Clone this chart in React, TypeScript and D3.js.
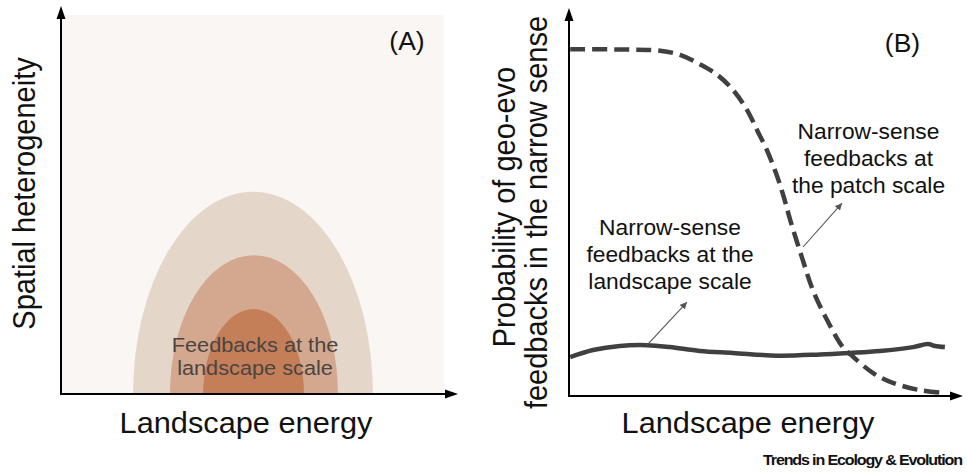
import * as d3 from "d3";
import * as React from "react";

// panel A: nested feedback zones (half-ellipses sitting on the energy axis)
const zoneNames = ["outer", "middle", "inner"];
const zoneCenter = [0.4836, 0.486, 0.485];
const zoneHalfWidth = [0.302, 0.2116, 0.127];
const zoneHeight = [0.521, 0.358, 0.219];

// panel B: probability curves over landscape energy
const patchEnergy = [0.003, 0.129, 0.231, 0.282, 0.332, 0.376, 0.416, 0.452, 0.477, 0.503, 0.528, 0.546, 0.561, 0.591, 0.619, 0.655, 0.695, 0.721, 0.772, 0.822, 0.891, 0.949];
const patchProb = [0.894, 0.893, 0.89, 0.879, 0.855, 0.828, 0.789, 0.737, 0.686, 0.632, 0.567, 0.51, 0.455, 0.358, 0.273, 0.196, 0.126, 0.101, 0.059, 0.034, 0.015, 0.008];
const landscapeEnergy = [0.003, 0.061, 0.129, 0.198, 0.256, 0.332, 0.416, 0.528, 0.637, 0.713, 0.789, 0.873, 0.911, 0.929, 0.954];
const landscapeProb = [0.1005, 0.1186, 0.129, 0.131, 0.126, 0.116, 0.111, 0.104, 0.107, 0.111, 0.116, 0.126, 0.134, 0.129, 0.126];

// annotation arrows [fromEnergy, fromProb, toEnergy, toProb]
const pointers = [
    [0.198, 0.131, 0.2995, 0.242],
    [0.594, 0.384, 0.693, 0.497],
];

const zoneLabel = ["Feedbacks at the", "landscape scale"];
const landscapeLabel = ["Narrow-sense", "feedbacks at the", "landscape scale"];
const patchLabel = ["Narrow-sense", "feedbacks at", "the patch scale"];

const zoneColors = ["#e5d6ca", "#d3a88e", "#c47f58"];
const FONT = "'Liberation Sans', Arial, Helvetica, sans-serif";
const SX = 1.06; // the figure's text is slightly stretched horizontally

export default function App() {
    const ref = React.useRef<SVGSVGElement>(null);

    React.useEffect(() => {
        const svg = d3.select(ref.current!);
        svg.selectAll("*").remove();

        const xA = d3.scaleLinear().domain([0, 1]).range([61, 458]);
        const yA = d3.scaleLinear().domain([0, 1]).range([394, 6]);
        const xB = d3.scaleLinear().domain([0, 1]).range([569, 963]);
        const yB = d3.scaleLinear().domain([0, 1]).range([396, 8]);

        const defs = svg.append("defs");
        defs.append("filter").attr("id", "soft")
            .append("feGaussianBlur").attr("stdDeviation", 0.7);
        defs.append("marker")
            .attr("id", "ptr")
            .attr("viewBox", "0 0 10 10")
            .attr("refX", 10).attr("refY", 5)
            .attr("markerWidth", 7).attr("markerHeight", 7)
            .attr("markerUnits", "userSpaceOnUse")
            .attr("orient", "auto")
            .append("path").attr("d", "M0,0 L10,5 L0,10 Z").attr("fill", "#555");

        const text = (g: any, str: string, x: number, y: number, size: number, opts: any = {}) =>
            g.append("text")
                .attr("transform", `translate(${x},${y}) scale(${SX},1)${opts.rotate ? " rotate(-90)" : ""}`)
                .attr("text-anchor", opts.anchor || "middle")
                .attr("font-family", FONT)
                .attr("font-size", size)
                .attr("font-weight", opts.bold ? "bold" : "normal")
                .attr("letter-spacing", opts.spacing || 0)
                .attr("fill", opts.fill || "#111")
                .text(str);

        const axes = (x: d3.ScaleLinear<number, number>, y: d3.ScaleLinear<number, number>) => {
            const x0 = x.range()[0], x1 = x.range()[1], y0 = y.range()[0], y1 = y.range()[1];
            const g = svg.append("g");
            g.append("line").attr("x1", x0).attr("x2", x0).attr("y1", y0 + 1).attr("y2", y1 + 10)
                .attr("stroke", "#000").attr("stroke-width", 2);
            g.append("line").attr("x1", x0 - 1).attr("x2", x1 - 10).attr("y1", y0).attr("y2", y0)
                .attr("stroke", "#000").attr("stroke-width", 2);
            g.append("path").attr("d", `M${x0},${y1} L${x0 - 4.5},${y1 + 13} L${x0 + 4.5},${y1 + 13} Z`).attr("fill", "#000");
            g.append("path").attr("d", `M${x1},${y0} L${x1 - 13},${y0 - 4.5} L${x1 - 13},${y0 + 4.5} Z`).attr("fill", "#000");
        };

        // ---- panel A
        const gA = svg.append("g");
        gA.append("rect").attr("x", 62).attr("y", 15).attr("width", 382).attr("height", yA(0) - 15)
            .attr("fill", "#f9f6f3");
        gA.append("g").attr("filter", "url(#soft)")
            .selectAll("path")
            .data(zoneNames)
            .join("path")
            .attr("d", (_, i) => {
                const l = xA(zoneCenter[i] - zoneHalfWidth[i]);
                const r = xA(zoneCenter[i] + zoneHalfWidth[i]);
                const ry = yA(0) - yA(zoneHeight[i]);
                return `M${l},${yA(0)} A${(r - l) / 2},${ry} 0 0 1 ${r},${yA(0)} Z`;
            })
            .attr("fill", (_, i) => zoneColors[i]);
        zoneLabel.forEach((s, i) => text(gA, s, 255, 351.5 + i * 23.5, 20.5, { fill: "#4b4443" }));
        axes(xA, yA);
        text(gA, "(A)", 407, 50, 25);
        text(gA, "Landscape energy", 246, 433, 29);
        text(gA, "Spatial heterogeneity", 35, 193.5, 29, { rotate: true });

        // ---- panel B
        const gB = svg.append("g");
        axes(xB, yB);
        const line = d3.line<number>().curve(d3.curveCatmullRom.alpha(0.5));
        gB.append("path")
            .attr("d", line.x(i => xB(landscapeEnergy[i])).y(i => yB(landscapeProb[i]))(d3.range(landscapeEnergy.length)))
            .attr("fill", "none").attr("stroke", "#404040").attr("stroke-width", 4.5);
        gB.append("path")
            .attr("d", line.x(i => xB(patchEnergy[i])).y(i => yB(patchProb[i]))(d3.range(patchEnergy.length)))
            .attr("fill", "none").attr("stroke", "#404040").attr("stroke-width", 4.5)
            .attr("stroke-dasharray", "15 7");
        gB.selectAll("line.ptr")
            .data(pointers)
            .join("line")
            .attr("class", "ptr")
            .attr("x1", p => xB(p[0])).attr("y1", p => yB(p[1]))
            .attr("x2", p => xB(p[2])).attr("y2", p => yB(p[3]))
            .attr("stroke", "#555").attr("stroke-width", 1.1)
            .attr("marker-end", "url(#ptr)");

        landscapeLabel.forEach((s, i) => text(gB, s, 670, 235 + i * 27, 21.5));
        patchLabel.forEach((s, i) => text(gB, s, 868.5, 139 + i * 27, 21.5));
        text(gB, "(B)", 902.5, 52, 25);
        text(gB, "Landscape energy", 748, 433, 29);
        text(gB, "Probability of geo-evo", 515, 207, 29, { rotate: true });
        text(gB, "feedbacks in the narrow sense", 547, 212.5, 29, { rotate: true });
        text(gB, "Trends in Ecology & Evolution", 763, 465, 15.2, { anchor: "start", bold: true, spacing: -1.1 });
    }, []);

    return (
        <svg ref={ref} width={967} height={472}
            style={{ position: "absolute", left: 0, top: 0, background: "#fff" }} />
    );
}
